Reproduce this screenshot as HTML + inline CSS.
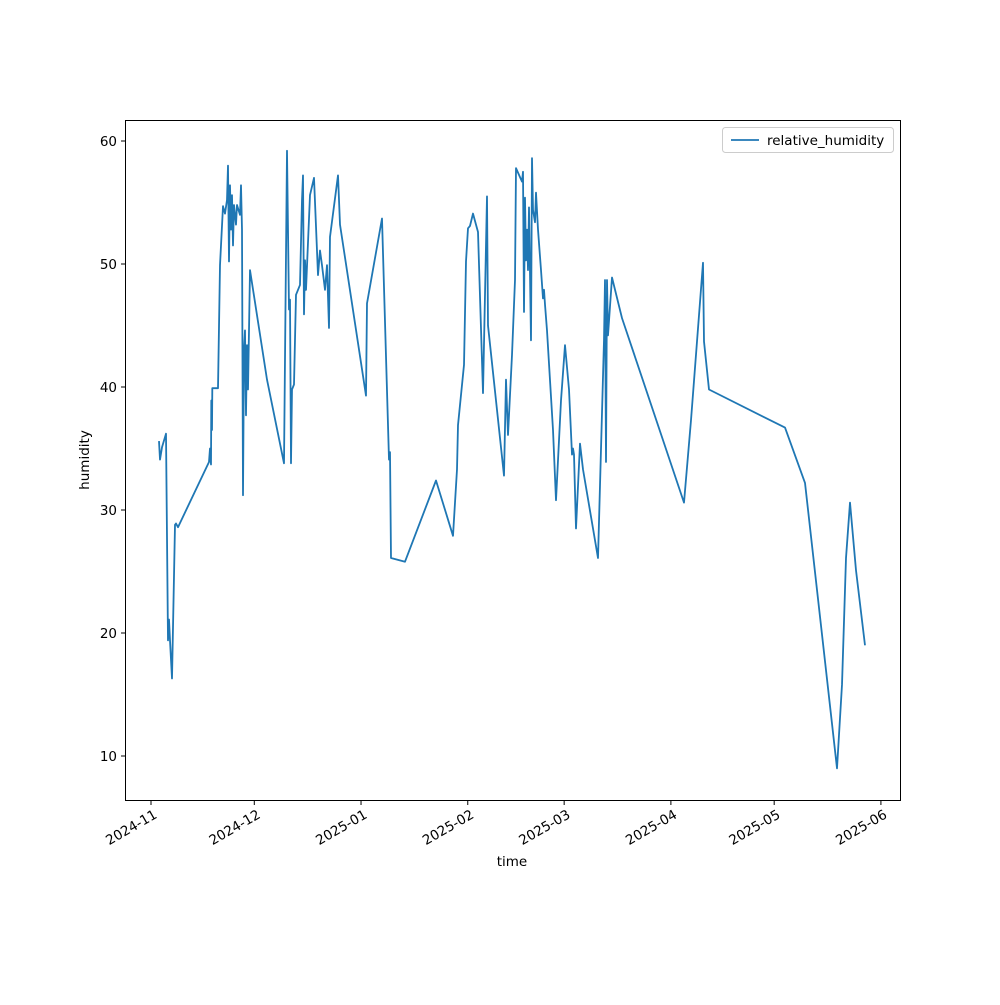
<!DOCTYPE html>
<html><head><meta charset="utf-8"><style>
body{margin:0;background:#fff;}
svg text{font-family:"DejaVu Sans","Liberation Sans",sans-serif;font-size:13.5px;fill:#000;}
</style></head><body>
<svg id="chart" width="1000" height="1000" xmlns="http://www.w3.org/2000/svg">
<rect x="0" y="0" width="1000" height="1000" fill="#fff"/>
<g id="ticks"></g>
<path id="line" fill="none" stroke="#1f77b4" stroke-width="1.8" stroke-linejoin="round"/>
<rect x="125.5" y="120.5" width="775" height="680" fill="none" stroke="#000" stroke-width="1"/>
<text x="512" y="866" text-anchor="middle">time</text>
<text transform="translate(89,460) rotate(-90)" text-anchor="middle">humidity</text>
<g>
<rect x="722.5" y="127.5" width="171" height="25" rx="3" fill="#fff" stroke="#ccc"/>
<line x1="731" y1="140" x2="759" y2="140" stroke="#1f77b4" stroke-width="1.8"/>
<text x="767" y="145">relative_humidity</text>
</g>
</svg>
<script>
const days=[2.32,2.61,3.20,4.36,4.94,5.23,5.52,6.10,6.97,7.26,7.84,16.85,17.14,17.43,17.5,17.72,17.8,19.46,20.04,20.91,21.49,22.07,22.36,22.65,22.95,23.24,23.53,23.82,24.11,24.69,24.98,25.85,26.14,26.43,26.72,27.01,27.30,27.59,27.88,28.17,28.46,28.75,33.69,38.63,39.5,40.08,40.37,40.66,40.95,41.53,42.11,43.28,43.86,44.15,44.44,44.73,45.02,46.18,47.34,48.50,49.09,49.67,50.54,51.12,51.70,51.99,54.31,54.89,62.45,62.74,67.09,69.13,69.42,69.71,73.77,82.78,87.71,88.88,89.17,90.91,91.49,92.07,92.65,93.52,94.97,96.43,97.59,97.88,102.53,103.11,103.69,104.85,105.72,106.01,107.75,108.04,108.34,108.63,108.92,109.21,109.50,109.79,110.37,110.66,110.95,111.53,111.82,112.4,113.27,113.85,114.14,114.43,115.01,116.76,117.63,119.08,120.24,121.41,122.28,122.57,122.86,123.44,124.6,125.47,129.83,131.57,131.86,132.15,132.44,132.73,133.89,136.8,154.81,156.84,160.33,160.62,162.08,184.14,189.94,199.24,200.69,201.86,203.02,204.76,207.38];
const humidity=[35.6,34.1,35.1,36.2,19.4,21.1,19.4,16.3,28.8,28.9,28.6,33.9,35.0,33.7,38.9,36.5,39.9,39.9,49.9,54.7,54.1,55.2,58.0,50.2,56.4,52.8,55.6,51.5,54.8,53.2,54.8,54.0,56.4,52.8,31.2,43.0,44.6,37.7,43.4,39.8,44.6,49.5,40.6,33.8,59.2,46.3,47.1,33.8,39.8,40.2,47.5,48.3,55.2,57.2,45.9,50.3,47.9,55.6,57.0,49.1,51.1,49.9,47.9,49.9,44.8,52.2,57.2,53.2,39.3,46.8,53.7,34.1,34.7,26.1,25.8,32.4,27.9,33.3,36.9,41.8,50.2,52.9,53.1,54.1,52.6,39.5,55.5,45.0,32.8,40.6,36.1,42.6,48.7,57.8,56.7,57.5,46.1,55.4,50.3,52.8,49.5,54.6,43.8,58.6,54.4,53.4,55.8,52.8,49.5,47.2,47.9,46.7,44.6,36.5,30.8,38.9,43.4,39.8,34.5,35.0,34.5,28.5,35.4,33.3,26.1,43.8,48.7,33.9,48.7,44.2,48.9,45.6,30.6,37.3,50.1,43.7,39.8,36.7,32.2,9.0,15.8,26.1,30.6,25.1,19.0];
const xTickDays=[0,30,61,92,120,151,181,212];
const xTickLabels=["2024-11","2024-12","2025-01","2025-02","2025-03","2025-04","2025-05","2025-06"];
const yTicks=[10,20,30,40,50,60];

const xs=d=>151+d*3.443;
const ys=v=>756-(v-10)*12.3;
const NS="http://www.w3.org/2000/svg";
const g=document.getElementById('ticks');
yTicks.forEach(v=>{
  const y=ys(v);
  const l=document.createElementNS(NS,'line');
  
  
  l.setAttribute('x1',121);l.setAttribute('x2',125);l.setAttribute('y1',y);l.setAttribute('y2',y);l.setAttribute('stroke','#000');
  g.appendChild(l);
  const t=document.createElementNS(NS,'text');
  
  
  t.setAttribute('x',117);t.setAttribute('y',y+5);t.setAttribute('text-anchor','end');
  t.textContent=v;g.appendChild(t);
});
xTickDays.forEach((d,i)=>{
  const x=xs(d);
  const l=document.createElementNS(NS,'line');
  
  
  l.setAttribute('x1',x);l.setAttribute('x2',x);l.setAttribute('y1',801);l.setAttribute('y2',805);l.setAttribute('stroke','#000');
  g.appendChild(l);
  const t=document.createElementNS(NS,'text');
  
  
  t.setAttribute('text-anchor','end');
  t.setAttribute('transform','translate('+(x+4)+',812) rotate(-30)');
  t.setAttribute('x',0);t.setAttribute('y',6);
  t.textContent=xTickLabels[i];g.appendChild(t);
});
document.getElementById('line').setAttribute('d',days.map((d,i)=>(i?'L':'M')+xs(d).toFixed(1)+','+ys(humidity[i]).toFixed(1)).join(''));
</script>
</body></html>
